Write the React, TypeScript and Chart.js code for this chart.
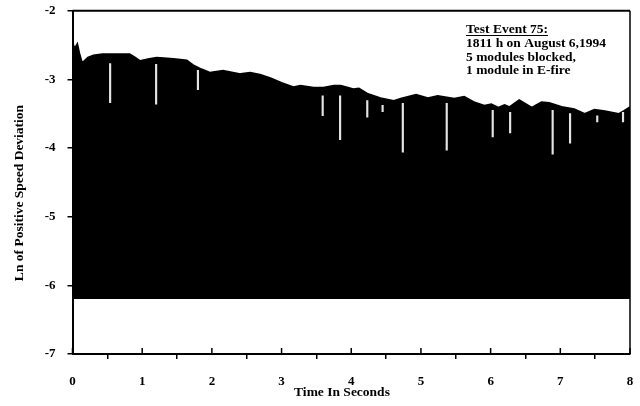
import { useEffect, useRef } from "react";
import { Chart, registerables } from "chart.js";

Chart.register(...registerables);

const FONT = '"Liberation Serif", "Times New Roman", serif';

// Upper envelope of the filled trace (time in s, ln of positive speed deviation)
const timeSec = [
  0, 0.03, 0.07, 0.1, 0.14, 0.22, 0.3, 0.43, 0.6, 0.82, 0.9, 0.97, 1.1, 1.21, 1.45, 1.64,
  1.73, 1.85, 1.97, 2.16, 2.41, 2.55, 2.69, 2.84, 3.0, 3.17, 3.27, 3.46, 3.6, 3.75, 3.85,
  4.03, 4.11, 4.24, 4.42, 4.61, 4.71, 4.93, 5.1, 5.24, 5.48, 5.62, 5.76, 5.91, 6.01, 6.11,
  6.2, 6.27, 6.41, 6.59, 6.73, 6.84, 7.02, 7.2, 7.35, 7.49, 7.64, 7.84, 7.91, 8.0,
];
const lnDev = [
  -2.45, -2.55, -2.48, -2.62, -2.76, -2.68, -2.65, -2.63, -2.63, -2.63, -2.68, -2.73, -2.7,
  -2.68, -2.7, -2.72, -2.79, -2.85, -2.9, -2.87, -2.92, -2.9, -2.93, -2.98, -3.05, -3.11,
  -3.09, -3.12, -3.12, -3.09, -3.09, -3.14, -3.13, -3.21, -3.27, -3.31, -3.28, -3.22, -3.27,
  -3.24, -3.28, -3.25, -3.33, -3.38, -3.36, -3.41, -3.37, -3.4, -3.3, -3.41, -3.33, -3.34,
  -3.4, -3.43, -3.5, -3.44, -3.46, -3.5, -3.46, -3.4,
];
const fillFloor = -6.2;

// White drop-out streaks inside the filled area
const dropTime = [0.54, 1.2, 1.8, 3.59, 3.84, 4.23, 4.45, 4.74, 5.37, 6.03, 6.28, 6.89, 7.14, 7.53, 7.9];
const dropTop = [-2.77, -2.78, -2.87, -3.24, -3.24, -3.31, -3.38, -3.35, -3.35, -3.45, -3.48, -3.45, -3.5, -3.53, -3.48];
const dropBottom = [-3.34, -3.36, -3.15, -3.53, -3.88, -3.55, -3.47, -4.06, -4.03, -3.84, -3.78, -4.09, -3.93, -3.62, -3.62];

const xMin = 0;
const xMax = 8;
const yMin = -7;
const yMax = -2;

const noteTitle = "Test Event 75:";
const noteLines = ["1811 h on August 6,1994", "5 modules blocked,", "1 module in E-fire"];
const xTitle = "Time In Seconds";
const yTitle = "Ln of Positive Speed Deviation";

export default function App() {
  const ref = useRef<HTMLCanvasElement>(null);

  useEffect(() => {
    document.body.style.margin = "0";
    const decor = {
      id: "decor",
      afterDatasetsDraw(chart: any) {
        const { ctx, chartArea } = chart;
        const { left, right, top, bottom } = chartArea;
        ctx.save();
        ctx.strokeStyle = "#000";
        ctx.lineWidth = 2;
        ctx.beginPath();
        ctx.moveTo(left, top);
        ctx.lineTo(right, top);
        ctx.stroke();
        ctx.lineWidth = 1.5;
        ctx.beginPath();
        ctx.moveTo(right, top);
        ctx.lineTo(right, bottom);
        ctx.stroke();
        const xs = chart.scales.x;
        ctx.lineWidth = 1.5;
        for (let v = xMin; v <= xMax; v++) {
          const px = xs.getPixelForValue(v);
          ctx.beginPath();
          ctx.moveTo(px, bottom);
          ctx.lineTo(px, bottom - 6);
          ctx.stroke();
        }
        ctx.restore();
      },
      afterDraw(chart: any) {
        const { ctx } = chart;
        ctx.save();
        ctx.fillStyle = "#000";
        ctx.font = `bold 13.5px ${FONT}`;
        ctx.textAlign = "left";
        ctx.textBaseline = "alphabetic";
        const x0 = 466;
        ctx.fillText(noteTitle, x0, 33);
        const w = ctx.measureText(noteTitle).width;
        ctx.fillRect(x0, 35, w, 1);
        noteLines.forEach((s, i) => ctx.fillText(s, x0, 47 + i * 13.5));
        ctx.textAlign = "center";
        ctx.fillText(xTitle, 342, 396);
        ctx.translate(20, 193);
        ctx.rotate(-Math.PI / 2);
        ctx.textBaseline = "middle";
        ctx.fillText(yTitle, 0, 0);
        ctx.restore();
      },
    };

    const chart = new Chart(ref.current!, {
      type: "line",
      data: {
        datasets: [
          {
            type: "line",
            data: timeSec.map((t, i) => ({ x: t, y: lnDev[i] })),
            borderColor: "#000",
            backgroundColor: "#000",
            borderWidth: 1.5,
            pointRadius: 0,
            tension: 0,
            fill: { value: fillFloor },
            order: 2,
          } as any,
          {
            type: "bar",
            data: dropTime.map((t, i) => ({ x: t, y: [dropBottom[i], dropTop[i]] })),
            backgroundColor: "#e4e4e4",
            borderWidth: 0,
            barThickness: 1.5,
            grouped: false,
            order: 1,
          } as any,
        ],
      },
      options: {
        animation: false,
        responsive: false,
        maintainAspectRatio: false,
        layout: { padding: { left: 0, top: 10.7, right: 10, bottom: 0 } },
        plugins: { legend: { display: false }, tooltip: { enabled: false } },
        scales: {
          x: {
            type: "linear",
            min: xMin,
            max: xMax,
            offset: false,
            ticks: { stepSize: 1, color: "#000", font: { family: FONT, size: 13, weight: "bold" }, padding: 15, maxRotation: 0 },
            grid: { drawOnChartArea: false, color: "#000", tickLength: 5, lineWidth: 1.5 },
            border: { color: "#000", width: 2 },
            title: { display: false },
            afterFit: (s: any) => { s.height = 52; s.paddingLeft = 0; s.paddingRight = 0; },
          },
          y: {
            type: "linear",
            min: yMin,
            max: yMax,
            ticks: { stepSize: 1, color: "#000", font: { family: FONT, size: 13, weight: "bold" }, padding: 12 },
            grid: { drawOnChartArea: false, color: "#000", tickLength: 5, lineWidth: 1.5 },
            border: { color: "#000", width: 2 },
            afterFit: (s: any) => { s.width = 72.5; s.paddingTop = 0; s.paddingBottom = 0; },
          },
        },
      },
      plugins: [decor],
    } as any);
    return () => chart.destroy();
  }, []);

  return (
    <div style={{ width: 640, height: 406, background: "#fff" }}>
      <canvas ref={ref} width={640} height={406} style={{ display: "block" }} />
    </div>
  );
}
